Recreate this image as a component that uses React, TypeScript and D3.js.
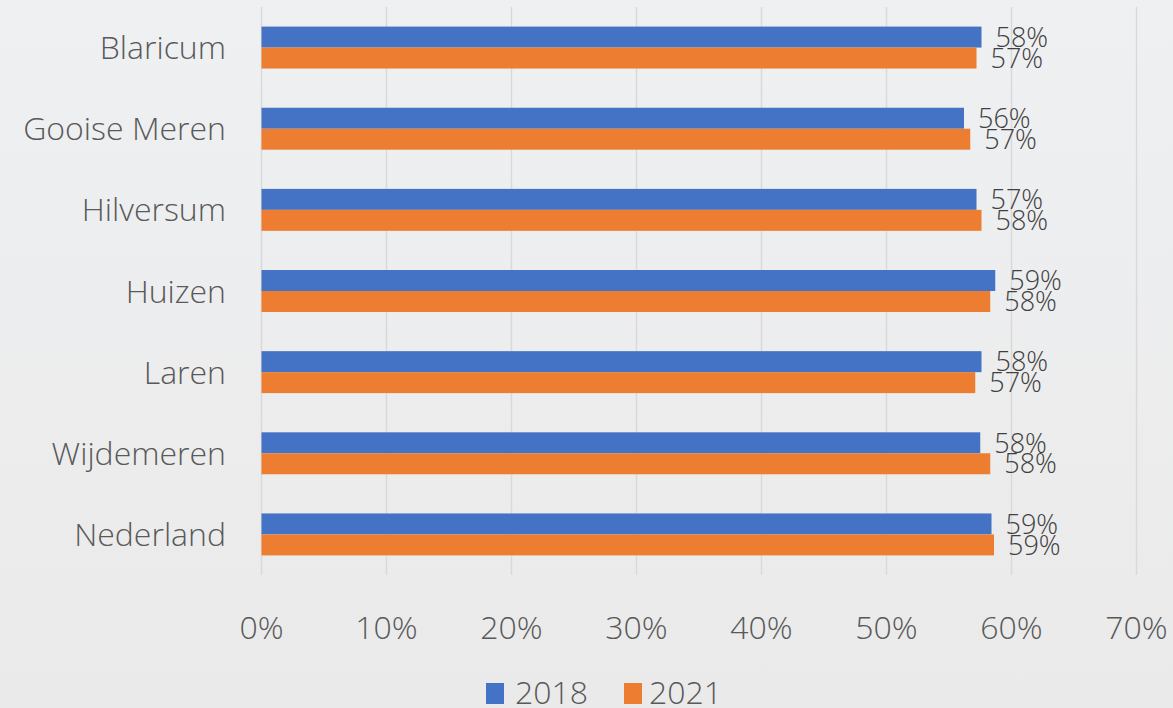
import React from "react";
import * as d3 from "d3";

const categories = ["Blaricum", "Gooise Meren", "Hilversum", "Huizen", "Laren", "Wijdemeren", "Nederland"];
const series = ["2018", "2021"];
const values2018 = [0.576, 0.562, 0.572, 0.587, 0.576, 0.575, 0.584];
const values2021 = [0.572, 0.567, 0.576, 0.583, 0.571, 0.583, 0.586];
const labels2018 = ["58%", "56%", "57%", "59%", "58%", "58%", "59%"];
const labels2021 = ["57%", "57%", "58%", "58%", "57%", "58%", "59%"];
const ticks = [0, 0.1, 0.2, 0.3, 0.4, 0.5, 0.6, 0.7];
const colors = ["#4472C4", "#ED7D31"];

const W = 1173, H = 708;
const left = 261.5, right = 1136.5, top = 7, bottom = 575;

export default function App() {
  const x = d3.scaleLinear().domain([0, 0.7]).range([left, right]);
  const y = d3.scaleBand().domain(categories).range([top, bottom]).paddingInner(0.483).paddingOuter(0.2415);
  const inner = d3.scaleBand().domain(series).range([0, y.bandwidth()]);
  const vals = [values2018, values2021];
  const labs = [labels2018, labels2021];
  const sans = "'Open Sans', 'Noto Sans', sans-serif";
  const legendItems = [
    { x: 486, tx: 515 },
    { x: 624, tx: 649 },
  ];
  return (
    <div style={{ position: "fixed", left: 0, top: 0 }}>
      <svg width={W} height={H} style={{ display: "block" }}>
        <defs>
          <linearGradient id="bg" x1="0" y1="0" x2="0" y2="1">
            <stop offset="0" stopColor="#EFF0F2" />
            <stop offset="1" stopColor="#EAEAEA" />
          </linearGradient>
        </defs>
        <rect x={0} y={0} width={W} height={H} fill="url(#bg)" />
        {ticks.map((t) => (
          <line key={t} x1={x(t)} x2={x(t)} y1={top} y2={bottom} stroke="#D9D9D9" strokeWidth={1.5} />
        ))}
        {categories.map((c, i) => (
          <g key={c}>
            {series.map((s, j) => (
              <g key={s}>
                <rect
                  x={x(0)}
                  y={(y(c) as number) + (inner(s) as number)}
                  width={x(vals[j][i]) - x(0)}
                  height={inner.bandwidth()}
                  fill={colors[j]}
                />
                <text
                  x={x(vals[j][i]) + 14}
                  y={(y(c) as number) + (inner(s) as number) + inner.bandwidth() / 2}
                  dy="0.36em"
                  fontFamily={sans}
                  fontWeight={300}
                  fontSize={27}
                  fill="#404040"
                >
                  {labs[j][i]}
                </text>
              </g>
            ))}
            <text
              x={226}
              y={(y(c) as number) + y.bandwidth() / 2}
              dy="0.36em"
              textAnchor="end"
              fontFamily={sans}
              fontWeight={300}
              fontSize={32}
              fill="#595959"
            >
              {c}
            </text>
          </g>
        ))}
        {ticks.map((t) => (
          <text
            key={"t" + t}
            x={x(t)}
            y={627}
            dy="0.36em"
            textAnchor="middle"
            fontFamily={sans}
            fontWeight={300}
            fontSize={32}
            fill="#595959"
          >
            {d3.format(".0%")(t)}
          </text>
        ))}
        {series.map((s, j) => (
          <g key={"l" + s}>
            <rect x={legendItems[j].x} y={683} width={18} height={21} fill={colors[j]} />
            <text x={legendItems[j].tx} y={692} dy="0.36em" fontFamily={sans} fontWeight={300} fontSize={32} fill="#595959">
              {s}
            </text>
          </g>
        ))}
      </svg>
    </div>
  );
}
